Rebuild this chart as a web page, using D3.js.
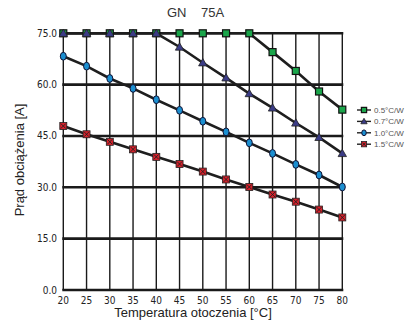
<!DOCTYPE html>
<html><head><meta charset="utf-8">
<script src="https://cdn.jsdelivr.net/npm/d3@7/dist/d3.min.js"></script>
<style>html,body{margin:0;padding:0;background:#fff;}svg{display:block;}</style>
</head><body>
<svg id="c" width="412" height="326"></svg>
<script>
const temps = [20,25,30,35,40,45,50,55,60,65,70,75,80];
const s05 = [75,75,75,75,75,75,75,75,75,69.5,64,58,52.7];
const s07 = [75,75,75,75,75,71,66.4,62,57.4,53.2,48.8,44.6,39.9];
const s10 = [68.3,65.4,61.8,58.9,55.6,52.5,49.3,46.2,43,39.9,36.7,33.6,30.1];
const s15 = [47.9,45.5,43.3,41.1,38.9,36.8,34.6,32.3,30.1,27.9,25.8,23.5,21.2];
const seriesNames = ["0.5°C/W","0.7°C/W","1.0°C/W","1.5°C/W"];
const yTicks = [0,15,30,45,60,75];
const title = "GN    75A";

const svg = d3.select("#c");
const x = d3.scaleLinear().domain([20,80]).range([63.3,342.3]);
const y = d3.scaleLinear().domain([0,75]).range([290,33.3]);
const narrow = "'Liberation Sans Narrow','Arial Narrow','DejaVu Sans Condensed',sans-serif";

// vertical grid
svg.append("g").selectAll("line").data(temps).join("line")
  .attr("x1",d=>x(d)).attr("x2",d=>x(d)).attr("y1",y(75)).attr("y2",y(0))
  .attr("stroke","#1a1a1a").attr("stroke-width",1.4);
// horizontal grid
svg.append("g").selectAll("line").data(yTicks).join("line")
  .attr("x1",x(20)-1).attr("x2",x(80)+1).attr("y1",d=>y(d)).attr("y2",d=>y(d))
  .attr("stroke","#1a1a1a").attr("stroke-width",2.6);

// tick labels
svg.append("g").selectAll("text").data(yTicks).join("text")
  .attr("x",57).attr("y",d=>y(d)+3.5).attr("text-anchor","end")
  .attr("font-family",narrow).attr("font-size",10).attr("fill","#222")
  .text(d=>d.toFixed(1));
svg.append("g").selectAll("text").data(temps).join("text")
  .attr("x",d=>x(d)).attr("y",303.5).attr("text-anchor","middle")
  .attr("font-family",narrow).attr("font-size",10).attr("fill","#222")
  .text(d=>d);

// titles
svg.append("text").attr("x",167).attr("y",17).attr("font-family","'Liberation Sans',Arial,sans-serif")
  .attr("font-size",13).attr("fill","#333").attr("xml:space","preserve").style("white-space","pre").text(title);
svg.append("text").attr("x",193).attr("y",317).attr("text-anchor","middle")
  .attr("font-family","'Liberation Sans',Arial,sans-serif").attr("font-size",13).attr("fill","#222")
  .text("Temperatura otoczenia [°C]");
svg.append("text").attr("transform","translate(24,160) rotate(-90)").attr("text-anchor","middle")
  .attr("font-family","'Liberation Sans',Arial,sans-serif").attr("font-size",13).attr("fill","#222")
  .text("Prąd obciążenia [A]");

const line = d3.line().x((d,i)=>x(temps[i])).y(d=>y(d));
const series = [s05,s07,s10,s15];
series.forEach(s=>{
  svg.append("path").attr("d",line(s)).attr("fill","none").attr("stroke","#1e1e1e").attr("stroke-width",2.6);
});

function marker(g, k, cx, cy, sc) {
  sc = sc || 1;
  if (k===0) {
    g.append("rect").attr("x",cx-3.5*sc).attr("y",cy-3.5*sc).attr("width",7*sc).attr("height",7*sc)
      .attr("fill","#1aa54a").attr("stroke","#111").attr("stroke-width",1.2);
  } else if (k===1) {
    const r=4.2*sc;
    g.append("path").attr("d",`M${cx},${cy-r}L${cx+r},${cy+r*0.75}L${cx-r},${cy+r*0.75}Z`)
      .attr("fill","#3b3c86").attr("stroke","#222").attr("stroke-width",0.8);
  } else if (k===2) {
    g.append("ellipse").attr("cx",cx).attr("cy",cy).attr("rx",3*sc).attr("ry",3.9*sc)
      .attr("fill","#1b8fd0").attr("stroke","#113").attr("stroke-width",1);
  } else {
    const h=3.5*sc;
    g.append("rect").attr("x",cx-h).attr("y",cy-h).attr("width",2*h).attr("height",2*h)
      .attr("fill","#d7202a").attr("stroke","#222").attr("stroke-width",0.8);
    g.append("path").attr("d",`M${cx-h+1},${cy-h+1}L${cx+h-1},${cy+h-1}M${cx+h-1},${cy-h+1}L${cx-h+1},${cy+h-1}`)
      .attr("stroke","#222").attr("stroke-width",0.9);
  }
}
series.forEach((s,k)=>{
  const g = svg.append("g");
  s.forEach((v,i)=>marker(g,k,x(temps[i]),y(v)));
});

// legend
const lg = svg.append("g");
seriesNames.forEach((n,k)=>{
  const yy = 110 + k*11.4;
  lg.append("line").attr("x1",357).attr("x2",371).attr("y1",yy).attr("y2",yy).attr("stroke","#222").attr("stroke-width",1.4);
  marker(lg,k,364,yy,0.75);
  lg.append("text").attr("x",374).attr("y",yy+3).attr("font-family","'Liberation Sans',Arial,sans-serif")
    .attr("font-size",8).attr("fill","#555").text(n);
});
</script>
</body></html>
